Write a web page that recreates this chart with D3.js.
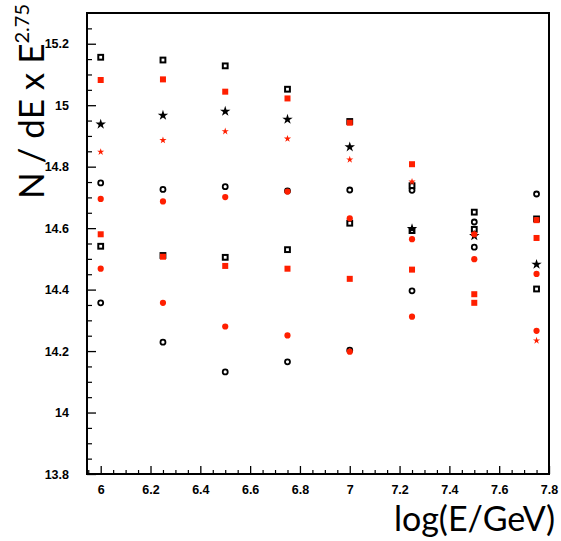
<!DOCTYPE html>
<html>
<head>
<meta charset="utf-8">
<script src="https://cdn.jsdelivr.net/npm/d3@7"></script>
<style>
  html, body { margin: 0; padding: 0; background: #fff; }
  svg { display: block; }
</style>
</head>
<body>
<script>
// ---- data ----
const energies = [6, 6.25, 6.5, 6.75, 7, 7.25, 7.5, 7.75];
const blackSquareA = [15.156, 15.147, 15.128, 15.052, 14.947, 14.738, 14.652, 14.630];
const blackSquareB = [14.541, 14.511, 14.505, 14.530, 14.616, 14.592, 14.596, 14.402];
const redSquareA   = [15.082, 15.084, 15.044, 15.022, 14.943, 14.808, 14.385, 14.626];
const redSquareB   = [14.580, 14.507, 14.477, 14.468, 14.435, 14.465, 14.357, 14.568];
const blackStar    = [14.938, 14.967, 14.980, 14.954, 14.864, 14.598, 14.575, 14.482];
const redStar      = [14.848, 14.886, 14.915, 14.891, 14.823, 14.751, 14.582, 14.234];
const blackCircleA = [14.747, 14.726, 14.735, 14.721, 14.724, 14.723, 14.620, 14.711];
const blackCircleB = [14.357, 14.229, 14.132, 14.165, 14.203, 14.396, 14.538, null];
const redCircleA   = [14.695, 14.687, 14.701, 14.719, 14.632, 14.564, 14.580, 14.451];
const redCircleB   = [14.468, 14.357, 14.280, 14.251, 14.198, 14.312, 14.499, 14.266];

const xTickValues = [6, 6.2, 6.4, 6.6, 6.8, 7, 7.2, 7.4, 7.6, 7.8];
const xTickLabels = ["6", "6.2", "6.4", "6.6", "6.8", "7", "7.2", "7.4", "7.6", "7.8"];
const yTickValues = [13.8, 14, 14.2, 14.4, 14.6, 14.8, 15, 15.2];
const yTickLabels = ["13.8", "14", "14.2", "14.4", "14.6", "14.8", "15", "15.2"];

const xTitle = "log(E/GeV)";
const yTitleMain = "N / dE x E";
const yTitleSup = "2.75";

// ---- layout ----
const W = 561, H = 541;
const mLeft = 87, mRight = 549, mTop = 13, mBottom = 474;
const RED = "#ff1f00";

const x = d3.scaleLinear().domain([5.945, 7.8]).range([mLeft, mRight]);
const y = d3.scaleLinear().domain([13.8, 15.3]).range([mBottom, mTop]);

const svg = d3.select("body").append("svg").attr("width", W).attr("height", H);
svg.append("rect").attr("width", W).attr("height", H).attr("fill", "#fff");

// minor ticks
const yMinor = d3.range(0, 30).map(i => +(13.8 + i * 0.05).toFixed(2)).filter(v => v <= 15.3);
const xMinor = d3.range(0, 38).map(i => +(5.95 + i * 0.05).toFixed(2)).filter(v => v <= 7.8);

// Y axis (ticks pointing inward)
const yAxis = d3.axisLeft(y).tickValues(yTickValues).tickSize(-9)
  .tickFormat((d, i) => yTickLabels[i]).tickPadding(18);
const gy = svg.append("g").attr("transform", `translate(${mLeft},0)`).call(yAxis);
gy.select(".domain").remove();
gy.selectAll(".tick line").attr("stroke", "#000").attr("stroke-width", 1.3);
gy.selectAll(".tick text").attr("font-family", "'Liberation Sans', Arial, sans-serif")
  .attr("font-weight", "bold").attr("font-size", 12.5).attr("fill", "#000");
svg.append("g").attr("transform", `translate(${mLeft},0)`)
  .call(d3.axisLeft(y).tickValues(yMinor.filter(v => !yTickValues.some(t => Math.abs(t - v) < 1e-6))).tickSize(-5).tickFormat(""))
  .call(g => g.select(".domain").remove())
  .call(g => g.selectAll(".tick line").attr("stroke", "#000").attr("stroke-width", 1.2));

// X axis
const xAxis = d3.axisBottom(x).tickValues(xTickValues).tickSize(-8)
  .tickFormat((d, i) => xTickLabels[i]).tickPadding(11);
const gx = svg.append("g").attr("transform", `translate(0,${mBottom})`).call(xAxis);
gx.select(".domain").remove();
gx.selectAll(".tick line").attr("stroke", "#000").attr("stroke-width", 1.3);
gx.selectAll(".tick text").attr("font-family", "'Liberation Sans', Arial, sans-serif")
  .attr("font-weight", "bold").attr("font-size", 12.5).attr("fill", "#000");
svg.append("g").attr("transform", `translate(0,${mBottom})`)
  .call(d3.axisBottom(x).tickValues(xMinor.filter(v => !xTickValues.some(t => Math.abs(t - v) < 1e-6))).tickSize(-4).tickFormat(""))
  .call(g => g.select(".domain").remove())
  .call(g => g.selectAll(".tick line").attr("stroke", "#000").attr("stroke-width", 1.2));

// frame
svg.append("rect").attr("x", mLeft).attr("y", mTop)
  .attr("width", mRight - mLeft).attr("height", mBottom - mTop)
  .attr("fill", "none").attr("stroke", "#000").attr("stroke-width", 2);

// ---- markers ----
const pts = arr => energies.map((e, i) => ({ e, v: arr[i] })).filter(d => d.v != null);
const plot = svg.append("g");

function squares(arr, filled, color) {
  plot.append("g").selectAll("rect").data(pts(arr)).join("rect")
    .attr("x", d => x(d.e) - (filled ? 3 : 2.4))
    .attr("y", d => y(d.v) - (filled ? 3 : 2.4))
    .attr("width", filled ? 6 : 4.8).attr("height", filled ? 6 : 4.8)
    .attr("fill", filled ? color : "none")
    .attr("stroke", filled ? "none" : color).attr("stroke-width", filled ? 0 : 2);
}
function circles(arr, filled, color) {
  plot.append("g").selectAll("circle").data(pts(arr)).join("circle")
    .attr("cx", d => x(d.e)).attr("cy", d => y(d.v))
    .attr("r", filled ? 3.1 : 2.5)
    .attr("fill", filled ? color : "none")
    .attr("stroke", filled ? "none" : color).attr("stroke-width", filled ? 0 : 1.8);
}
function stars(arr, size, color) {
  const sym = d3.symbol().type(d3.symbolStar).size(size);
  plot.append("g").selectAll("path").data(pts(arr)).join("path")
    .attr("transform", d => `translate(${x(d.e)},${y(d.v)})`)
    .attr("d", sym).attr("fill", color);
}

// black first, red on top
squares(blackSquareA, false, "#000");
squares(blackSquareB, false, "#000");
circles(blackCircleA, false, "#000");
circles(blackCircleB, false, "#000");
stars(blackStar, 34, "#000");
squares(redSquareA, true, RED);
squares(redSquareB, true, RED);
circles(redCircleA, true, RED);
circles(redCircleB, true, RED);
stars(redStar, 16, RED);

// ---- titles ----
svg.append("text")
  .attr("x", 555).attr("y", 531)
  .attr("text-anchor", "end")
  .attr("font-family", "Lato, 'Open Sans', sans-serif")
  .attr("font-size", 34).attr("fill", "#000")
  .text(xTitle);

const yt = svg.append("text")
  .attr("transform", "translate(44,4) rotate(-90)")
  .attr("text-anchor", "end")
  .attr("font-family", "Lato, 'Open Sans', sans-serif")
  .attr("font-size", 35).attr("fill", "#000");
yt.append("tspan").text(yTitleMain);
yt.append("tspan").attr("dy", -15).attr("font-size", 20).text(yTitleSup);
</script>
</body>
</html>
